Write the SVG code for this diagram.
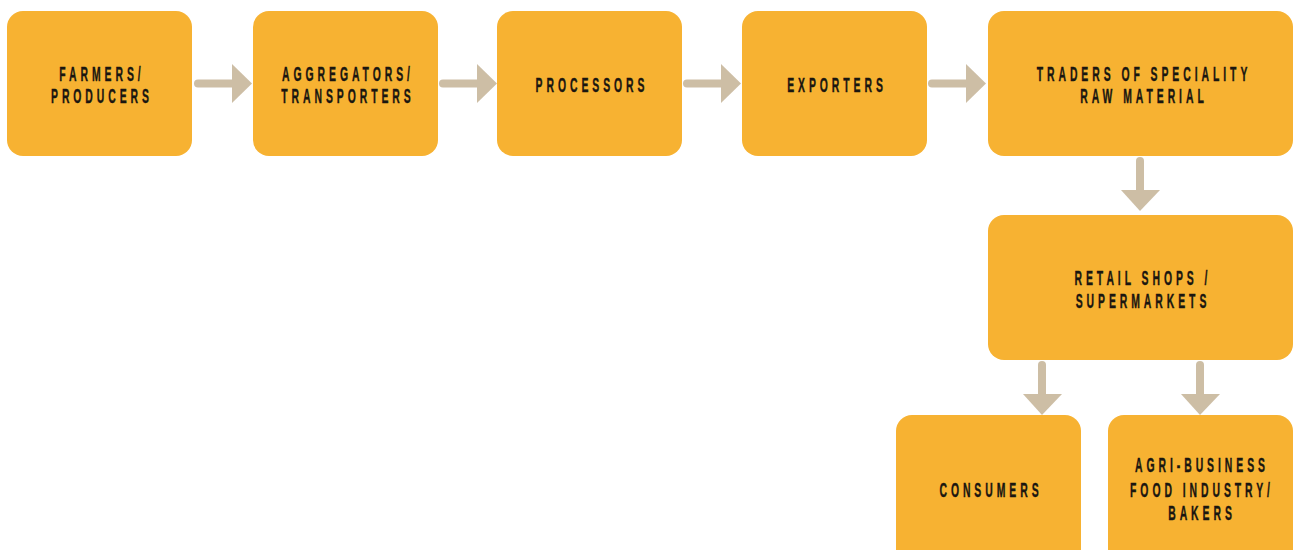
<svg xmlns="http://www.w3.org/2000/svg" width="1293" height="550" viewBox="0 0 1293 550">
<style>
.box{fill:#F7B232}
.lbl{font-family:"Liberation Sans",Arial,sans-serif;font-weight:bold;font-size:20px;letter-spacing:7.6px;fill:#1a1610;stroke:#1a1610;stroke-width:0.4;text-anchor:middle}
.shaft{stroke:#CDBEA5;stroke-width:8;stroke-linecap:round;fill:none}
.head{fill:#CDBEA5}
</style>
<rect width="1293" height="550" fill="#ffffff"/>
<g id="connectors">
<line class="shaft" x1="198" y1="83.5" x2="234" y2="83.5"/><polygon class="head" points="232,64 252,83.5 232,103"/>
<line class="shaft" x1="443" y1="83.5" x2="479" y2="83.5"/><polygon class="head" points="477,64 497,83.5 477,103"/>
<line class="shaft" x1="687" y1="83.5" x2="723" y2="83.5"/><polygon class="head" points="721,64 741,83.5 721,103"/>
<line class="shaft" x1="932" y1="83.5" x2="968" y2="83.5"/><polygon class="head" points="966,64 986,83.5 966,103"/>
<line class="shaft" x1="1140" y1="161" x2="1140" y2="192"/><polygon class="head" points="1121,190 1140,211 1160,190"/>
<line class="shaft" x1="1042" y1="365" x2="1042" y2="396"/><polygon class="head" points="1023,394 1042,415 1062,394"/>
<line class="shaft" x1="1200" y1="365" x2="1200" y2="396"/><polygon class="head" points="1181,394 1200,415 1220,394"/>
</g>
<g id="farmers"><rect class="box" x="7" y="11" width="185" height="145" rx="16"/><text class="lbl" transform="translate(100,81) scale(0.52,1)" x="3.8">FARMERS/</text><text class="lbl" transform="translate(100,103) scale(0.52,1)" x="3.8">PRODUCERS</text></g>
<g id="aggregators"><rect class="box" x="253" y="11" width="185" height="145" rx="16"/><text class="lbl" transform="translate(346,81) scale(0.52,1)" x="3.8">AGGREGATORS/</text><text class="lbl" transform="translate(346,103) scale(0.52,1)" x="3.8">TRANSPORTERS</text></g>
<g id="processors"><rect class="box" x="497" y="11" width="185" height="145" rx="16"/><text class="lbl" transform="translate(590,92) scale(0.52,1)" x="3.8">PROCESSORS</text></g>
<g id="exporters"><rect class="box" x="742" y="11" width="185" height="145" rx="16"/><text class="lbl" transform="translate(835,92) scale(0.52,1)" x="3.8">EXPORTERS</text></g>
<g id="traders"><rect class="box" x="988" y="11" width="305" height="145" rx="16"/><text class="lbl" transform="translate(1142,81) scale(0.52,1)" x="3.8">TRADERS OF SPECIALITY</text><text class="lbl" transform="translate(1142,103) scale(0.52,1)" x="3.8">RAW MATERIAL</text></g>
<g id="retail"><rect class="box" x="988" y="215" width="305" height="145" rx="16"/><text class="lbl" transform="translate(1141,285) scale(0.52,1)" x="3.8">RETAIL SHOPS /</text><text class="lbl" transform="translate(1141,308) scale(0.52,1)" x="3.8">SUPERMARKETS</text></g>
<g id="consumers"><rect class="box" x="896" y="415" width="185" height="160" rx="16"/><text class="lbl" transform="translate(989,497) scale(0.52,1)" x="3.8">CONSUMERS</text></g>
<g id="agribusiness"><rect class="box" x="1108" y="415" width="185" height="160" rx="16"/><text class="lbl" transform="translate(1200,472) scale(0.52,1)" x="3.8">AGRI-BUSINESS</text><text class="lbl" transform="translate(1200,497) scale(0.52,1)" x="3.8">FOOD INDUSTRY/</text><text class="lbl" transform="translate(1200,520) scale(0.52,1)" x="3.8">BAKERS</text></g>
</svg>
